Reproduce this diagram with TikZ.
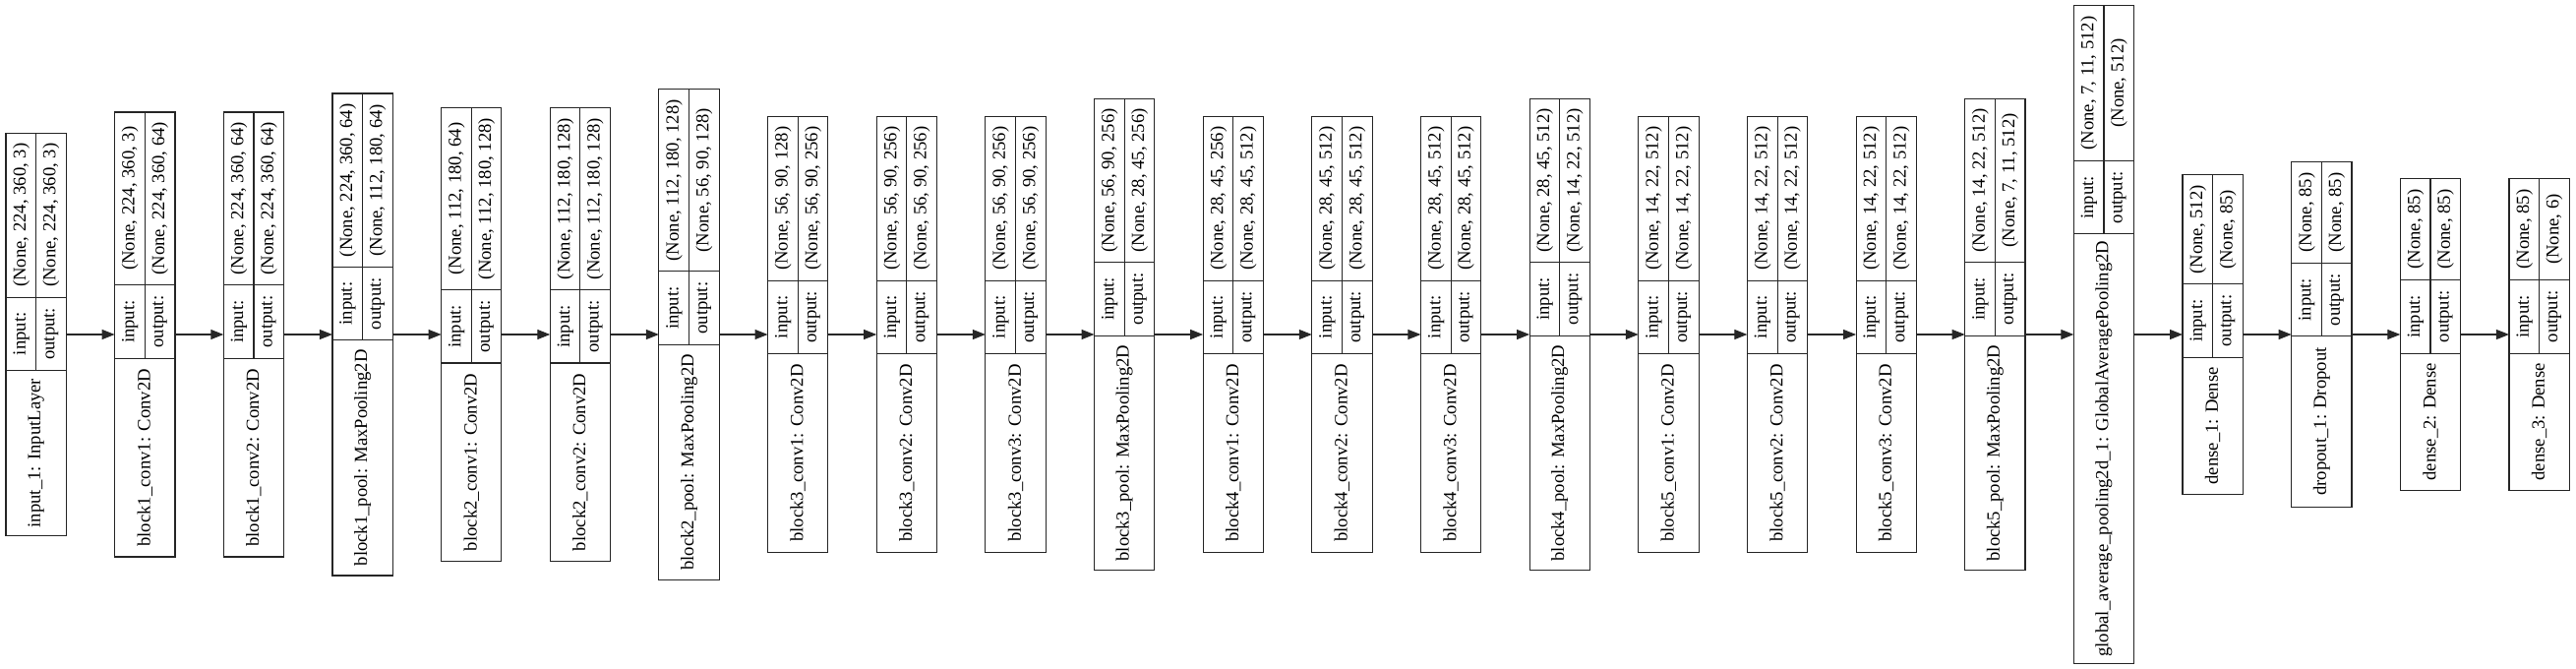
\documentclass[tikz,border=0pt]{standalone}
\usepackage{fontspec}
\setmainfont{Liberation Serif}
\usetikzlibrary{arrows.meta}
\tikzset{
 rec/.style={draw=black!85, line width=1.1pt, inner sep=0pt, outer sep=0pt, minimum width=61.3pt},
 cell/.style={draw=black!85, line width=1.1pt},
 txt/.style={rotate=90, inner sep=0pt, font=\fontsize{18.67}{22}\selectfont},
 arr/.style={draw=black!85, line width=1.1pt, -{Triangle[length=13pt,width=10pt]}},
}
\newcommand\lyr[8]{%
 \pgfmathsetmacro\xl{6+110.65*#2}%
 \pgfmathsetmacro\xr{\xl+61.3}%
 \pgfmathsetmacro\xm{\xl+30.65}%
 \pgfmathsetmacro\hh{680-2*#3}%
 \pgfmathsetmacro\ya{(#3+#4)/2}%
 \pgfmathsetmacro\yb{(#4+#5)/2}%
 \pgfmathsetmacro\yc{(#5+680-#3)/2}%
 \node[rec, minimum height=\hh pt] (#1) at (\xm,340) {};
 \draw[cell] (\xl,#4) -- (\xr,#4) (\xl,#5) -- (\xr,#5) (\xm,#3) -- (\xm,#5);
 \node[txt] at (\xl+15.6,\ya) {#6};
 \node[txt] at (\xl+46,\ya) {#7};
 \node[txt] at (\xl+15.6,\yb) {input:};
 \node[txt] at (\xl+46,\yb) {output:};
 \node[txt] at (\xm,\yc) {#8};
}
\begin{document}
\begin{tikzpicture}[x=1pt,y=-1pt]
\path[use as bounding box, fill=white] (0,0) rectangle (2619,680);
\lyr{n0}{0}{135.3}{302.3}{376.4}{(None, 224, 360, 3)}{(None, 224, 360, 3)}{input\_1: InputLayer}
\lyr{n1}{1}{114}{289.7}{364.7}{(None, 224, 360, 3)}{(None, 224, 360, 64)}{block1\_conv1: Conv2D}
\lyr{n2}{2}{114}{289.7}{364.7}{(None, 224, 360, 64)}{(None, 224, 360, 64)}{block1\_conv2: Conv2D}
\lyr{n3}{3}{95}{271.5}{345.6}{(None, 224, 360, 64)}{(None, 112, 180, 64)}{block1\_pool: MaxPooling2D}
\lyr{n4}{4}{109.3}{294.9}{369}{(None, 112, 180, 64)}{(None, 112, 180, 128)}{block2\_conv1: Conv2D}
\lyr{n5}{5}{109.3}{294.9}{369}{(None, 112, 180, 128)}{(None, 112, 180, 128)}{block2\_conv2: Conv2D}
\lyr{n6}{6}{90.6}{275.8}{350.4}{(None, 112, 180, 128)}{(None, 56, 90, 128)}{block2\_pool: MaxPooling2D}
\lyr{n7}{7}{118.4}{285.3}{359.5}{(None, 56, 90, 128)}{(None, 56, 90, 256)}{block3\_conv1: Conv2D}
\lyr{n8}{8}{118.4}{285.3}{359.5}{(None, 56, 90, 256)}{(None, 56, 90, 256)}{block3\_conv2: Conv2D}
\lyr{n9}{9}{118.4}{285.3}{359.5}{(None, 56, 90, 256)}{(None, 56, 90, 256)}{block3\_conv3: Conv2D}
\lyr{n10}{10}{100.2}{266.3}{341.3}{(None, 56, 90, 256)}{(None, 28, 45, 256)}{block3\_pool: MaxPooling2D}
\lyr{n11}{11}{118.4}{285.3}{359.5}{(None, 28, 45, 256)}{(None, 28, 45, 512)}{block4\_conv1: Conv2D}
\lyr{n12}{12}{118.4}{285.3}{359.5}{(None, 28, 45, 512)}{(None, 28, 45, 512)}{block4\_conv2: Conv2D}
\lyr{n13}{13}{118.4}{285.3}{359.5}{(None, 28, 45, 512)}{(None, 28, 45, 512)}{block4\_conv3: Conv2D}
\lyr{n14}{14}{100.2}{266.3}{341.3}{(None, 28, 45, 512)}{(None, 14, 22, 512)}{block4\_pool: MaxPooling2D}
\lyr{n15}{15}{118.4}{285.3}{359.5}{(None, 14, 22, 512)}{(None, 14, 22, 512)}{block5\_conv1: Conv2D}
\lyr{n16}{16}{118.4}{285.3}{359.5}{(None, 14, 22, 512)}{(None, 14, 22, 512)}{block5\_conv2: Conv2D}
\lyr{n17}{17}{118.4}{285.3}{359.5}{(None, 14, 22, 512)}{(None, 14, 22, 512)}{block5\_conv3: Conv2D}
\lyr{n18}{18}{100.2}{266.3}{341.3}{(None, 14, 22, 512)}{(None, 7, 11, 512)}{block5\_pool: MaxPooling2D}
\lyr{n19}{19}{5.2}{163.9}{237.6}{(None, 7, 11, 512)}{(None, 512)}{global\_average\_pooling2d\_1: GlobalAveragePooling2D}
\lyr{n20}{20}{177.8}{288.8}{363.4}{(None, 512)}{(None, 85)}{dense\_1: Dense}
\lyr{n21}{21}{164.8}{267.6}{341.7}{(None, 85)}{(None, 85)}{dropout\_1: Dropout}
\lyr{n22}{22}{181.7}{284.3}{359.3}{(None, 85)}{(None, 85)}{dense\_2: Dense}
\lyr{n23}{23}{181.7}{284.3}{359.3}{(None, 85)}{(None, 6)}{dense\_3: Dense}
\foreach \a [evaluate=\a as \b using int(\a+1)] in {0,...,22}
  \draw[arr] (n\a) -- (n\b);
\end{tikzpicture}
\end{document}
